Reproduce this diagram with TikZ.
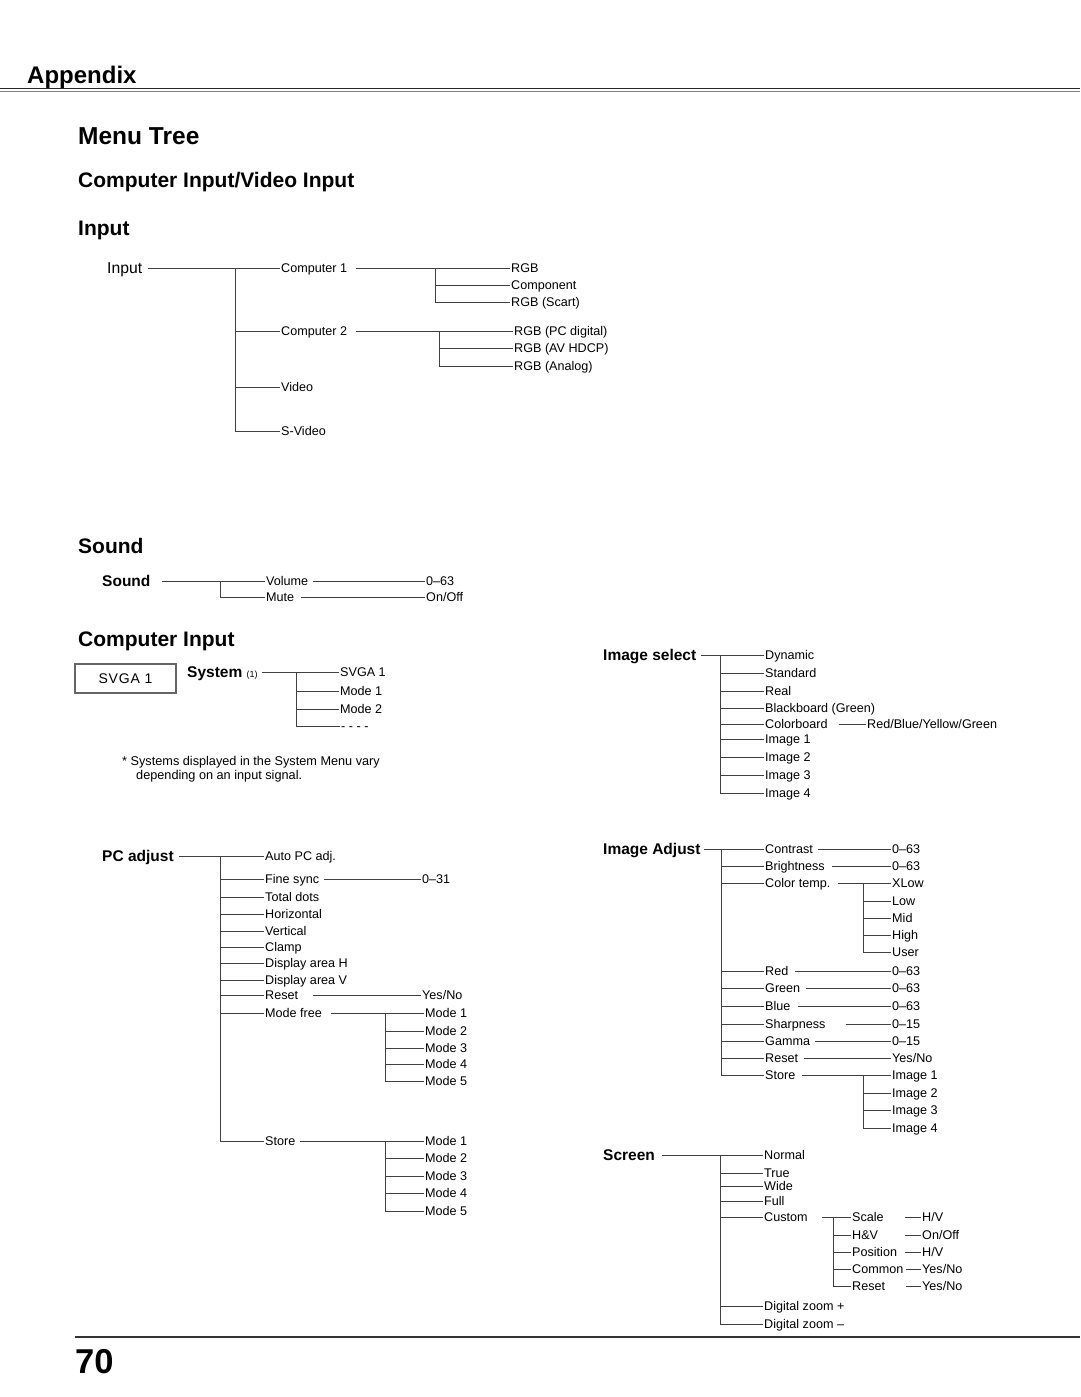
\documentclass[tikz,border=0pt]{standalone}
\usepackage{fontspec}
\setmainfont{Liberation Sans}

\begin{document}
\begin{tikzpicture}[
    x=1pt, y=-1pt,
    lab/.style={anchor=west, inner xsep=1pt, inner ysep=0pt, text height=9pt, text depth=0pt, font=\fontsize{12.6}{14}\selectfont},
    root/.style={anchor=west, inner sep=0pt, text height=11pt, text depth=0pt, font=\bfseries\fontsize{15.5}{18}\selectfont},
    heading/.style={anchor=base west, inner sep=0pt, font=\bfseries\fontsize{21}{25}\selectfont},
    note/.style={anchor=base west, inner sep=0pt, font=\fontsize{12.7}{14}\selectfont},
    link/.style={draw=black!75, line width=1pt},
  ]
  \useasboundingbox (0,0) rectangle (1080,1397);

  \node[heading, font=\bfseries\fontsize{24}{28}\selectfont] (appx) at (27,83) {Appendix};
  \draw[black!85, line width=1pt] (0,88.5) -- (1080,88.5);
  \draw[black!50, line width=1pt] (0,91.5) -- (1080,91.5);
  \node[heading, font=\bfseries\fontsize{24.5}{28}\selectfont] (mtree) at (78,144) {Menu Tree};
  \node[heading] (civi) at (78,187) {Computer Input/Video Input};

  \node[heading] (tin) at (78,235) {Input};
  \node[root, font=\fontsize{15.7}{18}\selectfont] (in) at (107,268) {Input};
  \node[lab] (c1) at (280,268) {Computer 1};
  \node[lab] (c2) at (280,331) {Computer 2};
  \node[lab] (vid) at (280,387) {Video};
  \node[lab] (svid) at (280,431) {S-Video};
  \coordinate (inJ) at (235,268);
  \draw[link, shorten <=6] (in.east) -- (c1.west);
  \draw[link] (inJ) |- (c2.west);
  \draw[link] (inJ) |- (vid.west);
  \draw[link] (inJ) |- (svid.west);

  \node[lab] (rgb) at (510,268) {RGB};
  \node[lab] (comp) at (510,285) {Component};
  \node[lab] (scart) at (510,302) {RGB (Scart)};
  \coordinate (c1J) at (435,268);
  \draw[link, shorten <=8] (c1.east) -- (rgb.west);
  \draw[link] (c1J) |- (comp.west);
  \draw[link] (c1J) |- (scart.west);

  \node[lab] (pcd) at (513,331) {RGB (PC digital)};
  \node[lab] (avh) at (513,348) {RGB (AV HDCP)};
  \node[lab] (ana) at (513,366) {RGB (Analog)};
  \coordinate (c2J) at (439,331);
  \draw[link, shorten <=8] (c2.east) -- (pcd.west);
  \draw[link] (c2J) |- (avh.west);
  \draw[link] (c2J) |- (ana.west);

  \node[heading] (tsnd) at (78,553) {Sound};
  \node[root] (snd) at (102,581) {Sound};
  \node[lab] (vol) at (265,581) {Volume};
  \node[lab] (mute) at (265,597) {Mute};
  \node[lab] (volv) at (425,581) {0–63};
  \node[lab] (mutev) at (425,597) {On/Off};
  \coordinate (sndJ) at (220,581);
  \draw[link, shorten <=11] (snd.east) -- (vol.west);
  \draw[link] (sndJ) |- (mute.west);
  \draw[link, shorten <=4] (vol.east) -- (volv.west);
  \draw[link, shorten <=6] (mute.east) -- (mutev.west);

  \node[heading] (tci) at (78,646) {Computer Input};
  \node[draw=black!60, line width=1.3pt, minimum width=101, minimum height=29, inner sep=0pt,
    font=\fontsize{14}{16}\selectfont\addfontfeatures{LetterSpace=6}] (svga) at (125.5,678.5) {SVGA 1};
  \node[root] (sys) at (187,672) {System {\mdseries\fontsize{9}{10}\selectfont(1)}};
  \node[lab] (sv1) at (339,672) {SVGA 1};
  \node[lab] (sm1) at (339,691) {Mode 1};
  \node[lab] (sm2) at (339,709) {Mode 2};
  \node[lab] (sdots) at (340,726) {- - - -};
  \coordinate (sysJ) at (296,672);
  \draw[link, shorten <=4] (sys.east) -- (sv1.west);
  \draw[link] (sysJ) |- (sm1.west);
  \draw[link] (sysJ) |- (sm2.west);
  \draw[link] (sysJ) |- (sdots.west);
  \node[note] (fn1) at (122,765) {* Systems displayed in the System Menu vary};
  \node[note] (fn2) at (136,779) {depending on an input signal.};

  \node[root] (isel) at (603,655) {Image select};
  \node[lab] (dyn) at (764,655) {Dynamic};
  \node[lab] (std) at (764,673) {Standard};
  \node[lab] (real) at (764,691) {Real};
  \node[lab] (bb) at (764,708) {Blackboard (Green)};
  \node[lab] (cb) at (764,724) {Colorboard};
  \node[lab] (im1) at (764,739) {Image 1};
  \node[lab] (im2) at (764,757) {Image 2};
  \node[lab] (im3) at (764,775) {Image 3};
  \node[lab] (im4) at (764,793) {Image 4};
  \node[lab] (rbyg) at (866,724) {Red/Blue/Yellow/Green};
  \coordinate (iselJ) at (720,655);
  \draw[link, shorten <=5] (isel.east) -- (dyn.west);
  \draw[link] (iselJ) |- (std.west);
  \draw[link] (iselJ) |- (real.west);
  \draw[link] (iselJ) |- (bb.west);
  \draw[link] (iselJ) |- (cb.west);
  \draw[link] (iselJ) |- (im1.west);
  \draw[link] (iselJ) |- (im2.west);
  \draw[link] (iselJ) |- (im3.west);
  \draw[link] (iselJ) |- (im4.west);
  \draw[link, shorten <=10] (cb.east) -- (rbyg.west);

  \node[root] (pcadj) at (102,856) {PC adjust};
  \node[lab] (auto) at (264,856) {Auto PC adj.};
  \node[lab] (fsync) at (264,879) {Fine sync};
  \node[lab] (tdots) at (264,897) {Total dots};
  \node[lab] (horiz) at (264,914) {Horizontal};
  \node[lab] (vert) at (264,931) {Vertical};
  \node[lab] (clamp) at (264,947) {Clamp};
  \node[lab] (dah) at (264,963) {Display area H};
  \node[lab] (dav) at (264,980) {Display area V};
  \node[lab] (pcrst) at (264,995) {Reset};
  \node[lab] (mfree) at (264,1013) {Mode free};
  \node[lab] (pcst) at (264,1141) {Store};
  \coordinate (pcJ) at (220,856);
  \draw[link, shorten <=5] (pcadj.east) -- (auto.west);
  \draw[link] (pcJ) |- (fsync.west);
  \draw[link] (pcJ) |- (tdots.west);
  \draw[link] (pcJ) |- (horiz.west);
  \draw[link] (pcJ) |- (vert.west);
  \draw[link] (pcJ) |- (clamp.west);
  \draw[link] (pcJ) |- (dah.west);
  \draw[link] (pcJ) |- (dav.west);
  \draw[link] (pcJ) |- (pcrst.west);
  \draw[link] (pcJ) |- (mfree.west);
  \draw[link] (pcJ) |- (pcst.west);
  \node[lab] (fsv) at (421,879) {0–31};
  \node[lab] (pcrv) at (421,995) {Yes/No};
  \draw[link, shorten <=3.5] (fsync.east) -- (fsv.west);
  \draw[link, shorten <=13.5] (pcrst.east) -- (pcrv.west);

  \node[lab] (mf1) at (424,1013) {Mode 1};
  \node[lab] (mf2) at (424,1031) {Mode 2};
  \node[lab] (mf3) at (424,1048) {Mode 3};
  \node[lab] (mf4) at (424,1064) {Mode 4};
  \node[lab] (mf5) at (424,1081) {Mode 5};
  \coordinate (mfJ) at (385,1013);
  \draw[link, shorten <=7.5] (mfree.east) -- (mf1.west);
  \draw[link] (mfJ) |- (mf2.west);
  \draw[link] (mfJ) |- (mf3.west);
  \draw[link] (mfJ) |- (mf4.west);
  \draw[link] (mfJ) |- (mf5.west);

  \node[lab] (st1) at (424,1141) {Mode 1};
  \node[lab] (st2) at (424,1158) {Mode 2};
  \node[lab] (st3) at (424,1176) {Mode 3};
  \node[lab] (st4) at (424,1193) {Mode 4};
  \node[lab] (st5) at (424,1211) {Mode 5};
  \coordinate (stJ) at (385,1141);
  \draw[link, shorten <=3.5] (pcst.east) -- (st1.west);
  \draw[link] (stJ) |- (st2.west);
  \draw[link] (stJ) |- (st3.west);
  \draw[link] (stJ) |- (st4.west);
  \draw[link] (stJ) |- (st5.west);

  \node[root] (iadj) at (603,849) {Image Adjust};
  \node[lab] (ctr) at (764,849) {Contrast};
  \node[lab] (bri) at (764,866) {Brightness};
  \node[lab] (ctemp) at (764,883) {Color temp.};
  \node[lab] (red) at (764,971) {Red};
  \node[lab] (green) at (764,988) {Green};
  \node[lab] (blue) at (764,1006) {Blue};
  \node[lab] (sharp) at (764,1024) {Sharpness};
  \node[lab] (gamma) at (764,1041) {Gamma};
  \node[lab] (iarst) at (764,1058) {Reset};
  \node[lab] (iast) at (764,1075) {Store};
  \coordinate (iadjJ) at (721,849);
  \draw[link, shorten <=3] (iadj.east) -- (ctr.west);
  \draw[link] (iadjJ) |- (bri.west);
  \draw[link] (iadjJ) |- (ctemp.west);
  \draw[link] (iadjJ) |- (red.west);
  \draw[link] (iadjJ) |- (green.west);
  \draw[link] (iadjJ) |- (blue.west);
  \draw[link] (iadjJ) |- (sharp.west);
  \draw[link] (iadjJ) |- (gamma.west);
  \draw[link] (iadjJ) |- (iarst.west);
  \draw[link] (iadjJ) |- (iast.west);

  \node[lab] (ctrv) at (891,849) {0–63};
  \node[lab] (briv) at (891,866) {0–63};
  \node[lab] (redv) at (891,971) {0–63};
  \node[lab] (greenv) at (891,988) {0–63};
  \node[lab] (bluev) at (891,1006) {0–63};
  \node[lab] (sharpv) at (891,1024) {0–15};
  \node[lab] (gammav) at (891,1041) {0–15};
  \node[lab] (iarstv) at (891,1058) {Yes/No};
  \draw[link, shorten <=3.5] (ctr.east) -- (ctrv.west);
  \draw[link, shorten <=6] (bri.east) -- (briv.west);
  \draw[link, shorten <=5] (red.east) -- (redv.west);
  \draw[link, shorten <=4.5] (green.east) -- (greenv.west);
  \draw[link, shorten <=6] (blue.east) -- (bluev.west);
  \draw[link, shorten <=19] (sharp.east) -- (sharpv.west);
  \draw[link, shorten <=4] (gamma.east) -- (gammav.west);
  \draw[link, shorten <=4.5] (iarst.east) -- (iarstv.west);

  \node[lab] (xlow) at (891,883) {XLow};
  \node[lab] (low) at (891,901) {Low};
  \node[lab] (mid) at (891,918) {Mid};
  \node[lab] (high) at (891,935) {High};
  \node[lab] (user) at (891,952) {User};
  \coordinate (ctJ) at (863,883);
  \draw[link, shorten <=6] (ctemp.east) -- (xlow.west);
  \draw[link] (ctJ) |- (low.west);
  \draw[link] (ctJ) |- (mid.west);
  \draw[link] (ctJ) |- (high.west);
  \draw[link] (ctJ) |- (user.west);

  \node[lab] (ias1) at (891,1075) {Image 1};
  \node[lab] (ias2) at (891,1093) {Image 2};
  \node[lab] (ias3) at (891,1110) {Image 3};
  \node[lab] (ias4) at (891,1128) {Image 4};
  \coordinate (iasJ) at (863,1075);
  \draw[link, shorten <=5.5] (iast.east) -- (ias1.west);
  \draw[link] (iasJ) |- (ias2.west);
  \draw[link] (iasJ) |- (ias3.west);
  \draw[link] (iasJ) |- (ias4.west);

  \node[root] (scr) at (603,1155) {Screen};
  \node[lab] (norm) at (763,1155) {Normal};
  \node[lab] (true) at (763,1173) {True};
  \node[lab] (wide) at (763,1186) {Wide};
  \node[lab] (full) at (763,1201) {Full};
  \node[lab] (cust) at (763,1217) {Custom};
  \node[lab] (dzp) at (763,1306) {Digital zoom +};
  \node[lab] (dzm) at (763,1324) {Digital zoom –};
  \coordinate (scrJ) at (720,1155);
  \draw[link, shorten <=7] (scr.east) -- (norm.west);
  \draw[link] (scrJ) |- (true.west);
  \draw[link] (scrJ) |- (wide.west);
  \draw[link] (scrJ) |- (full.west);
  \draw[link] (scrJ) |- (cust.west);
  \draw[link] (scrJ) |- (dzp.west);
  \draw[link] (scrJ) |- (dzm.west);

  \node[lab] (scale) at (851,1217) {Scale};
  \node[lab] (hv) at (851,1235) {H\&V};
  \node[lab] (pos) at (851,1252) {Position};
  \node[lab] (common) at (851,1269) {Common};
  \node[lab] (csrst) at (851,1286) {Reset};
  \coordinate (cuJ) at (833,1217);
  \draw[link, shorten <=13] (cust.east) -- (scale.west);
  \draw[link] (cuJ) |- (hv.west);
  \draw[link] (cuJ) |- (pos.west);
  \draw[link] (cuJ) |- (common.west);
  \draw[link] (cuJ) |- (csrst.west);

  \node[lab] (scalev) at (921,1217) {H/V};
  \node[lab] (hvv) at (921,1235) {On/Off};
  \node[lab] (posv) at (921,1252) {H/V};
  \node[lab] (commonv) at (921,1269) {Yes/No};
  \node[lab] (csrstv) at (921,1286) {Yes/No};
  \draw[link, shorten <=20.5] (scale.east) -- (scalev.west);
  \draw[link, shorten <=25.5] (hv.east) -- (hvv.west);
  \draw[link, shorten <=7] (pos.east) -- (posv.west);
  \draw[link, shorten <=1] (common.east) -- (commonv.west);
  \draw[link, shorten <=19.5] (csrst.east) -- (csrstv.west);

  \draw[black!80, line width=1.2pt] (75,1337) -- (1080,1337);
  \node[heading, font=\bfseries\fontsize{34.5}{40}\selectfont] (pnum) at (75,1373) {70};
\end{tikzpicture}
\end{document}
